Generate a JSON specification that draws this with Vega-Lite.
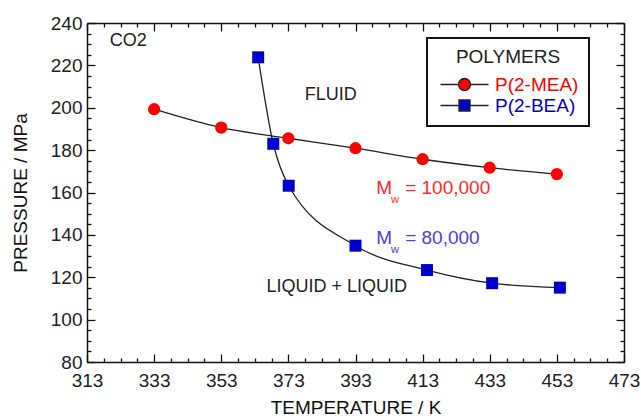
{
  "$schema": "https://vega.github.io/schema/vega-lite/v6.json",
  "width": 537,
  "height": 339,
  "autosize": {"type": "none"},
  "padding": {"left": 87, "top": 23, "right": 17, "bottom": 54},
  "background": "white",
  "config": {
    "view": {"stroke": null},
    "font": "Liberation Sans",
    "axis": {
      "grid": false,
      "domainColor": "#111",
      "domainWidth": 1.5,
      "tickColor": "#111",
      "tickWidth": 1.3,
      "labelFont": "Liberation Sans",
      "labelFontSize": 19,
      "labelColor": "#222",
      "titleFont": "Liberation Sans",
      "titleFontSize": 19,
      "titleFontWeight": "normal",
      "titleColor": "#111"
    }
  },
  "datasets": {
    "mea": [
      {"T": 333, "P": 199.3},
      {"T": 353, "P": 190.6},
      {"T": 373, "P": 185.6},
      {"T": 393, "P": 180.9},
      {"T": 413, "P": 175.7},
      {"T": 433, "P": 171.7},
      {"T": 453, "P": 168.7}
    ],
    "bea": [
      {"T": 364, "P": 223.8},
      {"T": 368.5, "P": 183.0},
      {"T": 373.1, "P": 163.2},
      {"T": 393, "P": 134.9},
      {"T": 414.3, "P": 123.4},
      {"T": 433.7, "P": 117.2},
      {"T": 453.9, "P": 115.1}
    ],
    "series": [
      {"s": "P(2-MEA)"},
      {"s": "P(2-BEA)"}
    ]
  },
  "layer": [
    {
      "data": {"name": "mea"},
      "mark": {"type": "line", "interpolate": "monotone", "color": "#222", "strokeWidth": 1.3},
      "encoding": {
        "x": {
          "field": "T", "type": "quantitative",
          "scale": {"domain": [313, 473], "nice": false, "zero": false},
          "axis": {"orient": "bottom", "values": [313, 333, 353, 373, 393, 413, 433, 453, 473], "tickSize": -8, "labelPadding": 17, "title": "TEMPERATURE / K", "titlePadding": 8, "labelFlush": false}
        },
        "y": {
          "field": "P", "type": "quantitative",
          "scale": {"domain": [80, 240], "nice": false, "zero": false},
          "axis": {"orient": "left", "values": [80, 100, 120, 140, 160, 180, 200, 220, 240], "tickSize": -8, "labelPadding": 13, "title": "PRESSURE / MPa", "titlePadding": 20, "labelFlush": false}
        }
      }
    },
    {
      "data": {"name": "bea"},
      "mark": {"type": "line", "interpolate": "monotone", "color": "#222", "strokeWidth": 1.3},
      "encoding": {
        "x": {
          "field": "T", "type": "quantitative",
          "axis": {"orient": "bottom", "values": [318, 323, 328, 338, 343, 348, 358, 363, 368, 378, 383, 388, 398, 403, 408, 418, 423, 428, 438, 443, 448, 458, 463, 468], "tickSize": -4, "labels": false, "domain": false, "title": null}
        },
        "y": {
          "field": "P", "type": "quantitative",
          "axis": {"orient": "left", "values": [85, 90, 95, 105, 110, 115, 125, 130, 135, 145, 150, 155, 165, 170, 175, 185, 190, 195, 205, 210, 215, 225, 230, 235], "tickSize": -4, "labels": false, "domain": false, "title": null}
        }
      }
    },
    {
      "data": {"name": "mea"},
      "mark": {"type": "point", "shape": "circle", "filled": true, "size": 150, "color": "#ff0000", "opacity": 1},
      "encoding": {
        "x": {
          "field": "T", "type": "quantitative",
          "axis": {"orient": "top", "values": [313, 333, 353, 373, 393, 413, 433, 453, 473], "tickSize": -8, "labels": false, "title": null}
        },
        "y": {
          "field": "P", "type": "quantitative",
          "axis": {"orient": "right", "values": [80, 100, 120, 140, 160, 180, 200, 220, 240], "tickSize": -8, "labels": false, "title": null}
        }
      }
    },
    {
      "data": {"name": "bea"},
      "mark": {"type": "point", "shape": "square", "filled": true, "size": 144, "color": "#0000cc", "opacity": 1},
      "encoding": {
        "x": {
          "field": "T", "type": "quantitative",
          "axis": {"orient": "top", "values": [318, 323, 328, 338, 343, 348, 358, 363, 368, 378, 383, 388, 398, 403, 408, 418, 423, 428, 438, 443, 448, 458, 463, 468], "tickSize": -4, "labels": false, "domain": false, "title": null}
        },
        "y": {
          "field": "P", "type": "quantitative",
          "axis": {"orient": "right", "values": [85, 90, 95, 105, 110, 115, 125, 130, 135, 145, 150, 155, 165, 170, 175, 185, 190, 195, 205, 210, 215, 225, 230, 235], "tickSize": -4, "labels": false, "domain": false, "title": null}
        }
      }
    },
    {
      "data": {"values": [
        {"T": 319.8, "P": 231.3, "label": "CO2"},
        {"T": 377.9, "P": 206.2, "label": "FLUID"},
        {"T": 366.5, "P": 115.4, "label": "LIQUID + LIQUID"}
      ]},
      "mark": {"type": "text", "align": "left", "baseline": "middle", "fontSize": 18, "color": "#222"},
      "encoding": {
        "x": {"field": "T", "type": "quantitative", "axis": null},
        "y": {"field": "P", "type": "quantitative", "axis": null},
        "text": {"field": "label"}
      }
    },
    {
      "data": {"values": [
        {"T": 399.2, "P": 162.1, "label": "M"},
        {"T": 407.8, "P": 162.1, "label": "= 100,000"}
      ]},
      "mark": {"type": "text", "align": "left", "baseline": "middle", "fontSize": 19, "color": "#ff2a2a"},
      "encoding": {
        "x": {"field": "T", "type": "quantitative", "axis": null},
        "y": {"field": "P", "type": "quantitative", "axis": null},
        "text": {"field": "label"}
      }
    },
    {
      "data": {"values": [
        {"T": 403.6, "P": 156.4, "label": "w"}
      ]},
      "mark": {"type": "text", "align": "left", "baseline": "middle", "fontSize": 11, "color": "#ff2a2a"},
      "encoding": {
        "x": {"field": "T", "type": "quantitative", "axis": null},
        "y": {"field": "P", "type": "quantitative", "axis": null},
        "text": {"field": "label"}
      }
    },
    {
      "data": {"values": [
        {"T": 399.2, "P": 138.7, "label": "M"},
        {"T": 407.8, "P": 138.7, "label": "= 80,000"}
      ]},
      "mark": {"type": "text", "align": "left", "baseline": "middle", "fontSize": 19, "color": "#5040e0"},
      "encoding": {
        "x": {"field": "T", "type": "quantitative", "axis": null},
        "y": {"field": "P", "type": "quantitative", "axis": null},
        "text": {"field": "label"}
      }
    },
    {
      "data": {"values": [
        {"T": 403.6, "P": 133.0, "label": "w"}
      ]},
      "mark": {"type": "text", "align": "left", "baseline": "middle", "fontSize": 11, "color": "#5040e0"},
      "encoding": {
        "x": {"field": "T", "type": "quantitative", "axis": null},
        "y": {"field": "P", "type": "quantitative", "axis": null},
        "text": {"field": "label"}
      }
    },
    {
      "data": {"name": "series"},
      "mark": {"type": "point", "filled": true, "opacity": 0},
      "encoding": {
        "color": {
          "field": "s", "type": "nominal",
          "scale": {"domain": ["P(2-MEA)", "P(2-BEA)"], "range": ["#ff0000", "#0000cc"]},
          "legend": {
            "title": "POLYMERS", "orient": "none", "legendX": 340, "legendY": 15,
            "titleFontSize": 19, "titleFontWeight": "normal", "titleColor": "#222", "titleAnchor": "middle", "titlePadding": 8,
            "labelFontSize": 19, "labelOffset": 39, "symbolSize": 144, "symbolStrokeColor": "#222", "symbolStrokeWidth": 1.3, "symbolOpacity": 1,
            "strokeColor": "#111", "fillColor": "white", "padding": 10, "rowPadding": 1,
            "encode": {
              "labels": {"update": {"fill": {"scale": "color", "field": "value"}}},
              "legend": {"update": {"strokeWidth": {"value": 2}}}
            }
          }
        },
        "shape": {
          "field": "s", "type": "nominal",
          "scale": {"domain": ["P(2-MEA)", "P(2-BEA)"], "range": ["M-1,0H2M4,0H7M2,0A1,1 0 1,0 4,0A1,1 0 1,0 2,0Z", "M-1,0H2.08M3.92,0H7M2.08,-0.92H3.92V0.92H2.08Z"]},
          "legend": {
            "title": "POLYMERS", "orient": "none", "legendX": 340, "legendY": 15,
            "titleFontSize": 19, "titleFontWeight": "normal", "titleColor": "#222", "titleAnchor": "middle", "titlePadding": 8,
            "labelFontSize": 19, "labelOffset": 39, "symbolSize": 144, "symbolStrokeColor": "#222", "symbolStrokeWidth": 1.3, "symbolOpacity": 1,
            "strokeColor": "#111", "fillColor": "white", "padding": 10, "rowPadding": 1,
            "encode": {
              "labels": {"update": {"fill": {"scale": "color", "field": "value"}}},
              "legend": {"update": {"strokeWidth": {"value": 2}}}
            }
          }
        }
      }
    }
  ],
  "resolve": {"axis": {"x": "independent", "y": "independent"}}
}
